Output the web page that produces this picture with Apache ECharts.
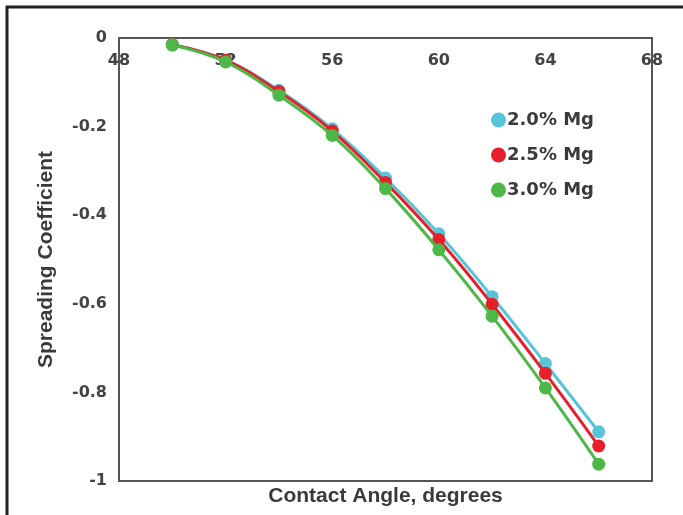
<!DOCTYPE html>
<html>
<head>
<meta charset="utf-8">
<script src="https://cdn.jsdelivr.net/npm/echarts@6/dist/echarts.min.js"></script>
<style>
  html, body { margin: 0; padding: 0; background: #fff; }
  #chart { width: 683px; height: 515px; }
</style>
</head>
<body>
<div id="chart"></div>
<script>
// contact angle (degrees)
var angles = [50, 52, 54, 56, 58, 60, 62, 64, 66];
// spreading coefficient
var mg20 = [-0.015, -0.05, -0.118, -0.205, -0.316, -0.442, -0.584, -0.735, -0.889];
var mg25 = [-0.015, -0.05, -0.121, -0.21, -0.326, -0.455, -0.601, -0.757, -0.921];
var mg30 = [-0.016, -0.054, -0.129, -0.22, -0.34, -0.478, -0.628, -0.79, -0.962];
var seriesNames = ['2.0% Mg', '2.5% Mg', '3.0% Mg'];
var colors = ['#56c5da', '#e61f2b', '#4db847'];

function pairs(ys) {
  return angles.map(function (a, i) { return [a, ys[i]]; });
}

var myChart = echarts.init(document.getElementById('chart'));

var series = [mg20, mg25, mg30].map(function (ys, i) {
  return {
    name: seriesNames[i],
    type: 'line',
    smooth: 0.4,
    data: pairs(ys),
    symbol: 'circle',
    symbolSize: 13,
    lineStyle: { width: 3, color: colors[i] },
    itemStyle: { color: colors[i] },
    z: 2 + i
  };
});

var tickFont = 'DejaVu Sans, sans-serif';
var titleFont = 'Liberation Sans, Arial, sans-serif';

var option = {
  animation: false,
  graphic: [{
    type: 'rect',
    shape: { x: 7, y: 7, width: 700, height: 540 },
    style: { fill: 'none', stroke: '#222', lineWidth: 3 },
    silent: true
  }],
  legend: {
    orient: 'vertical',
    left: 486,
    top: 106,
    itemGap: 17,
    itemWidth: 15,
    itemHeight: 15,
    icon: 'circle',
    textStyle: {
      fontFamily: tickFont, fontSize: 18, fontWeight: 'bold', color: '#3a3a3a',
      padding: [0, 0, 0, -4]
    },
    data: seriesNames
  },
  grid: {
    left: 119, right: 31, top: 38, bottom: 34,
    show: true, borderColor: '#555', borderWidth: 2, backgroundColor: '#fff'
  },
  xAxis: [{
    type: 'value',
    position: 'top',
    min: 48, max: 68, interval: 4,
    axisLine: { show: false },
    axisTick: { show: false },
    splitLine: { show: false },
    axisLabel: {
      inside: true, margin: 15, fontFamily: tickFont, fontSize: 16,
      fontWeight: 'bold', color: '#444'
    }
  }, {
    type: 'value',
    position: 'bottom',
    min: 48, max: 68,
    name: 'Contact Angle, degrees',
    nameLocation: 'middle',
    nameGap: 5,
    nameTextStyle: { fontFamily: titleFont, fontSize: 21, fontWeight: 'bold', color: '#3a3a3a' },
    axisLine: { show: false },
    axisTick: { show: false },
    splitLine: { show: false },
    axisLabel: { show: false }
  }],
  yAxis: {
    type: 'value',
    min: -1, max: 0, interval: 0.2,
    name: 'Spreading Coefficient',
    nameLocation: 'middle',
    nameGap: 62,
    nameTextStyle: { fontFamily: titleFont, fontSize: 21, fontWeight: 'bold', color: '#3a3a3a' },
    axisLine: { show: false },
    axisTick: { show: false },
    splitLine: { show: false },
    axisLabel: {
      margin: 12, fontFamily: tickFont, fontSize: 16,
      fontWeight: 'bold', color: '#444'
    }
  },
  series: series
};

myChart.setOption(option);
</script>
</body>
</html>
